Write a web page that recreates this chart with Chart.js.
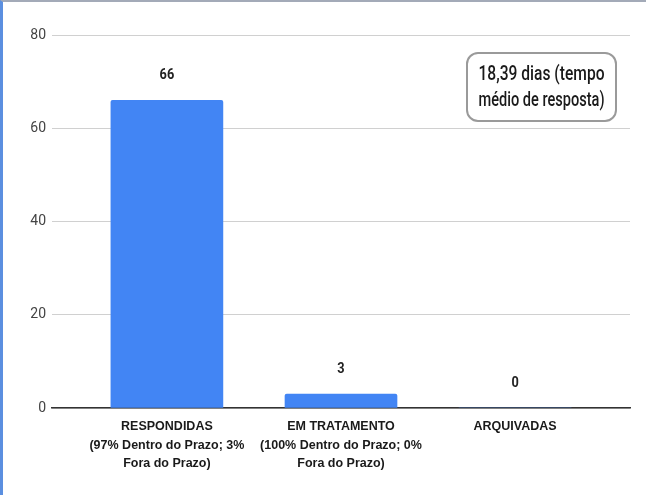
<!DOCTYPE html>
<html>
<head>
<meta charset="utf-8">
<script src="https://cdn.jsdelivr.net/npm/chart.js@4.4.1/dist/chart.umd.min.js"></script>
<style>
    html, body { margin: 0; padding: 0; background: #fff; }
    #wrap {
        width: 643px; height: 493px;
        border-left: 3px solid #5b8fe0;
        border-top: 2px solid #a3aab8;
    }
</style>
</head>
<body>
<div id="wrap"><canvas id="chart" width="643" height="493"></canvas></div>
<script>
// data
var categories = [
    ['RESPONDIDAS', '(97% Dentro do Prazo; 3%', 'Fora do Prazo)'],
    ['EM TRATAMENTO', '(100% Dentro do Prazo; 0%', 'Fora do Prazo)'],
    ['ARQUIVADAS']
];
var values = [66, 3, 0];
var yTicks = [0, 20, 40, 60, 80];
var noteText = ['18,39 dias (tempo', 'médio de resposta)'];

var points = values.map(function (v, i) { return { x: i, y: v }; });

// draws text squeezed to a narrower width (condensed look)
function squeezed(ctx, text, x, y, sx) {
    ctx.save();
    ctx.translate(x, y);
    ctx.scale(sx, 1);
    ctx.fillText(text, 0, 0);
    ctx.restore();
}

// value labels above each bar
var valueLabels = {
    id: 'valueLabels',
    afterDatasetsDraw: function (chart) {
        var ctx = chart.ctx;
        var xs = chart.scales.x, ys = chart.scales.y;
        ctx.save();
        ctx.font = 'bold 15px Roboto';
        ctx.fillStyle = '#222';
        ctx.textAlign = 'center';
        ctx.textBaseline = 'middle';
        values.forEach(function (v, i) {
            squeezed(ctx, String(v), xs.getPixelForValue(i), ys.getPixelForValue(v) - 25, 0.85);
        });
        ctx.restore();
    }
};

// rounded note box top right
var noteBox = {
    id: 'noteBox',
    afterDraw: function (chart) {
        var ctx = chart.ctx;
        var x = 464, y = 51, w = 149, h = 68, r = 11;
        ctx.save();
        ctx.beginPath();
        ctx.roundRect(x, y, w, h, r);
        ctx.fillStyle = '#fff';
        ctx.fill();
        ctx.lineWidth = 2;
        ctx.strokeStyle = '#9a9a9a';
        ctx.stroke();
        ctx.fillStyle = '#1a1a1a';
        ctx.font = '500 20px Roboto';
        ctx.textAlign = 'center';
        ctx.textBaseline = 'middle';
        noteText.forEach(function (line, i) {
            var tw = ctx.measureText(line).width;
            squeezed(ctx, line, x + w / 2, y + 22 + i * 26, Math.min(1, 126 / tw));
        });
        ctx.restore();
    }
};

var ctx = document.getElementById('chart');
var myChart = new Chart(ctx, {
    type: 'bar',
    data: {
        datasets: [{
            data: points,
            backgroundColor: '#4285f4',
            barThickness: 112,
            borderRadius: { topLeft: 2, topRight: 2 },
            borderSkipped: 'bottom'
        }]
    },
    options: {
        responsive: false,
        animation: false,
        layout: { padding: { top: 33, right: 16, left: 0, bottom: 0 } },
        plugins: { legend: { display: false }, tooltip: { enabled: false } },
        scales: {
            x: {
                type: 'linear',
                offset: false,
                min: -0.66,
                max: 2.66,
                afterBuildTicks: function (s) {
                    s.ticks = categories.map(function (c, i) { return { value: i }; });
                },
                afterFit: function (s) { s.height = 87; },
                grid: { display: false, drawTicks: false },
                border: { display: true, color: '#333', width: 1.5 },
                ticks: {
                    autoSkip: false,
                    maxRotation: 0,
                    padding: 9,
                    color: '#1a1a1a',
                    font: { family: "'Liberation Sans', Arial", size: 12.5, weight: 'bold', lineHeight: 1.5 },
                    callback: function (v) { return categories[v]; }
                }
            },
            y: {
                min: 0,
                max: 80,
                afterBuildTicks: function (s) {
                    s.ticks = yTicks.map(function (t) { return { value: t }; });
                },
                afterFit: function (s) { s.width = 49; },
                grid: { color: '#d0d0d0', lineWidth: 1, drawTicks: false },
                border: { display: false },
                ticks: {
                    padding: 6,
                    color: '#444',
                    font: { family: 'Roboto', size: 14 }
                }
            }
        }
    },
    plugins: [valueLabels, noteBox]
});
</script>
</body>
</html>
